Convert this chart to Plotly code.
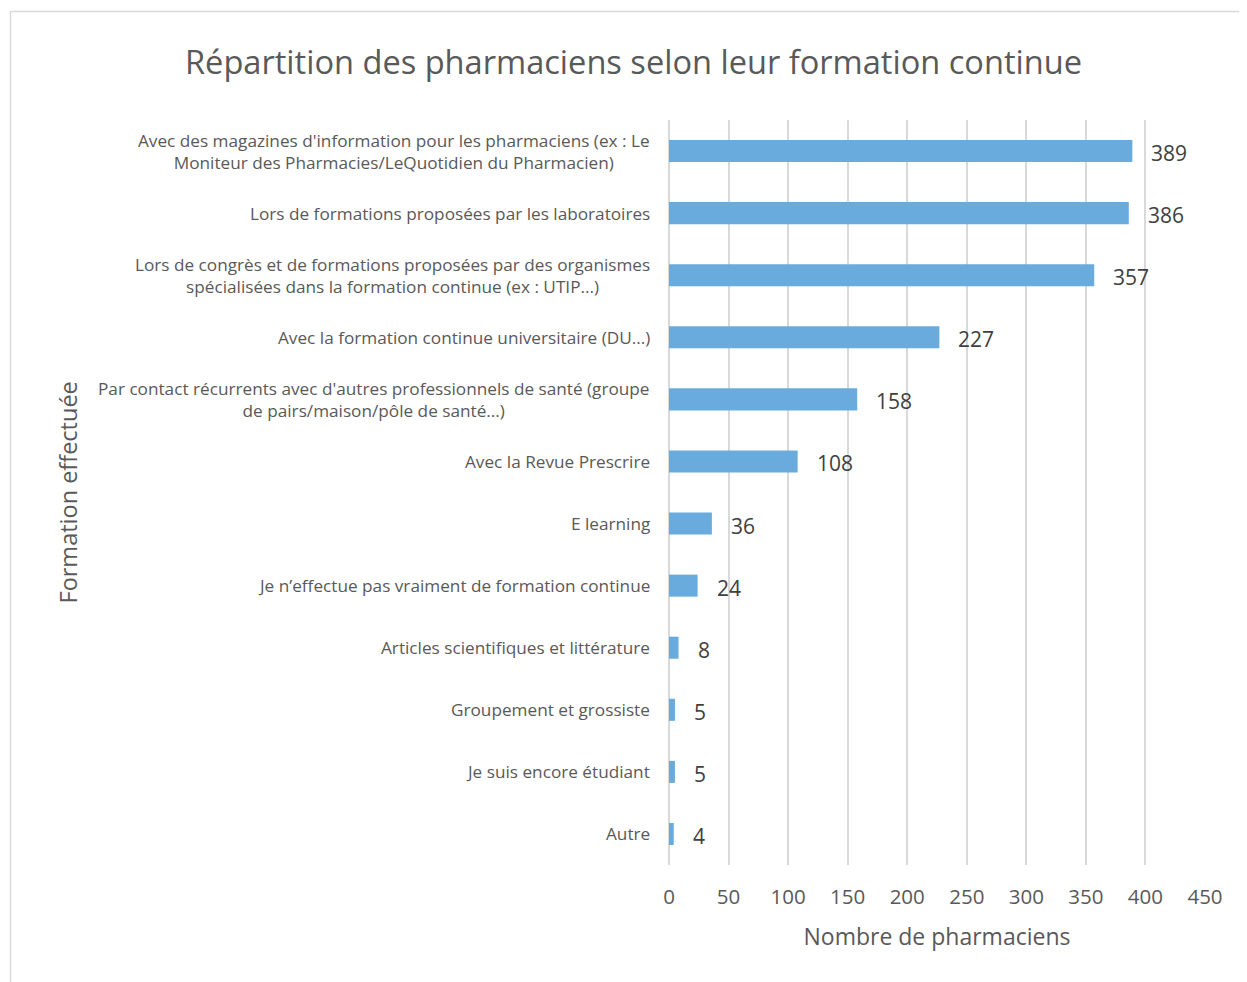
import plotly.graph_objects as go

categories = [
    "Avec des magazines d'information pour les pharmaciens (ex : Le<br>Moniteur des Pharmacies/LeQuotidien du Pharmacien)",
    "Lors de formations proposées par les laboratoires",
    "Lors de congrès et de formations proposées par des organismes<br>spécialisées dans la formation continue (ex : UTIP...)",
    "Avec la formation continue universitaire (DU...)",
    "Par contact récurrents avec d'autres professionnels de santé (groupe<br>de pairs/maison/pôle de santé...)",
    "Avec la Revue Prescrire",
    "E learning",
    "Je n’effectue pas vraiment de formation continue",
    "Articles scientifiques et littérature",
    "Groupement et grossiste",
    "Je suis encore étudiant",
    "Autre",
]
values = [389, 386, 357, 227, 158, 108, 36, 24, 8, 5, 5, 4]
x_ticks = [0, 50, 100, 150, 200, 250, 300, 350, 400, 450]

FONT = "Open Sans"
GREY = "#595959"

fig = go.Figure(go.Bar(
    x=values, y=categories, orientation="h",
    marker=dict(color="#6AABDD", line=dict(width=0)),
    hoverinfo="x+y",
))

annotations = []
for c, v in zip(categories, values):
    annotations.append(dict(x=v, y=c, xref="x", yref="y", text=str(v), showarrow=False,
                            xanchor="left", xshift=17, yshift=-2,
                            font=dict(family=FONT, size=21, color="#404040")))
    annotations.append(dict(x=0, y=c, xref="paper", yref="y", text=c, showarrow=False,
                            xanchor="right", xshift=-17, align="center",
                            font=dict(family=FONT, size=17.2, color=GREY)))
annotations.append(dict(x=(67 - 669) / 536, y=0.5, xref="paper", yref="paper", text="Formation effectuée",
                        textangle=-90, showarrow=False, xanchor="center", yanchor="middle",
                        font=dict(family=FONT, size=23.5, color=GREY)))

fig.update_layout(
    width=1239, height=974,
    margin=dict(l=661, r=42, t=112, b=117),
    paper_bgcolor="white", plot_bgcolor="white",
    bargap=0.645,
    showlegend=False,
    title=dict(text="Répartition des pharmaciens selon leur formation continue",
               x=(633.5 - 8) / 1239, xref="container", xanchor="center",
               y=(974 - 55) / 974, yref="container", yanchor="middle",
               font=dict(family=FONT, size=32.6, color=GREY)),
    xaxis=dict(range=[0, 450], tickvals=x_ticks, showgrid=True, gridcolor="#D9D9D9", gridwidth=1.5,
               zeroline=True, zerolinecolor="#D9D9D9", zerolinewidth=1.5,
               showline=False, ticks="outside", ticklen=13, tickcolor="rgba(0,0,0,0)",
               tickfont=dict(family=FONT, size=20.5, color=GREY),
               title=dict(text="Nombre de pharmaciens", standoff=20,
                          font=dict(family=FONT, size=23, color=GREY))),
    yaxis=dict(categoryorder="array", categoryarray=categories, autorange="reversed",
               showticklabels=False, showgrid=False, zeroline=False, showline=False),
    annotations=annotations,
    shapes=[dict(type="rect", xref="paper", yref="paper",
                 x0=(10.5 - 669) / 536, x1=(1262 - 669) / 536,
                 y0=(865 - 1000) / 745, y1=(865 - 11.5) / 745,
                 line=dict(color="#D9D9D9", width=1.5), layer="below")],
)

fig.write_html("out.html")
